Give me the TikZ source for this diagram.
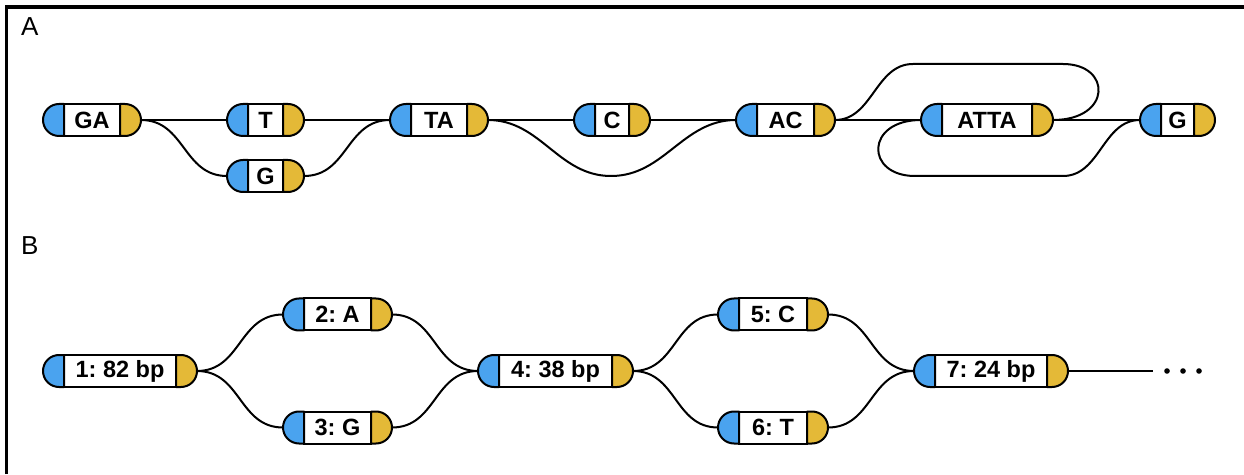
\documentclass[tikz,border=0pt]{standalone}
\usepackage{fontspec}
\setmainfont{Liberation Sans}
\frenchspacing
\definecolor{capblue}{HTML}{4AA3EF}
\definecolor{capyellow}{HTML}{E4B937}

\begin{document}
\begin{tikzpicture}[x=1pt, y=1pt,
    seqbox/.style={draw=black, fill=white, line width=2pt, rectangle,
      minimum height=32pt, inner sep=0pt, outer sep=0pt,
      font=\fontsize{23.5}{23.5}\selectfont\bfseries},
    capline/.style={draw=black, line width=2pt, line join=round},
    link/.style={draw=black, line width=2pt},
    panellabel/.style={anchor=base west, inner sep=0pt,
      font=\fontsize{26}{26}\selectfont}]
  \useasboundingbox (0,0) rectangle (1244,474);

  % frame on the top and left side
  \draw[line width=3.5pt] (6.5,0) |- (1244,467);

  % panel letters
  \node[panellabel] (labelA) at (21,438) {A};
  \node[panellabel] (labelB) at (21,219) {B};

  % segments: white box with a blue start cap and a yellow end cap
  \foreach \name/\x/\y/\w/\txt in {
      ga/92/354/56/GA, t/265.5/354/35/T, g/265.5/298/35/G,
      ta/439/354/56/TA, c/612/354/34/C, ac/785.5/354/57/AC,
      atta/987/354/90/ATTA, gend/1177.5/354/33/G,
      b1/120/103/112/1: 82 bp, b2/337.5/159.5/67/2: A,
      b3/337.5/46.5/67/3: G, b4/555.5/103/113/4: 38 bp,
      b5/773/159.5/68/5: C, b6/773/46.5/68/6: T,
      b7/991/103/112/7: 24 bp} {
    \node[seqbox, minimum width=\w] (\name) at (\x,\y) {\txt};
    \draw[capline, fill=capblue] (\name.north west) -- ++(-5,0)
      arc[start angle=90, end angle=270, radius=16pt] -- (\name.south west) -- cycle;
    \draw[capline, fill=capyellow] (\name.north east) -- ++(5,0)
      arc[start angle=90, end angle=-90, radius=16pt] -- (\name.south east) -- cycle;
    \coordinate (\name-in) at ([xshift=-21pt]\name.west);
    \coordinate (\name-out) at ([xshift=21pt]\name.east);
  }

  % panel A links
  \coordinate (dip) at (611,298);
  \draw[link] (ga-out) -- (t-in);
  \draw[link] (ga-out) to[out=0, in=180, looseness=1.1] (g-in);
  \draw[link] (t-out) -- (ta-in);
  \draw[link] (g-out) to[out=0, in=180, looseness=1.1] (ta-in);
  \draw[link] (ta-out) -- (c-in);
  \draw[link] (ta-out) to[out=0, in=180] (dip) to[out=0, in=180] (ac-in);
  \draw[link] (c-out) -- (ac-in);
  \draw[link] (ac-out) -- (atta-in);
  \draw[link] (ac-out) to[out=0, in=180] (913,410) -- (1063,410)
    .. controls (1112,410) and (1112,354) .. (atta-out);
  \draw[link] (atta-out) -- (gend-in);
  \draw[link] (atta-in) .. controls (865,354) and (865,298) .. (915,298)
    -- (1063,298) to[out=0, in=180] (gend-in);

  % panel B links
  \foreach \from/\to in {b1/b2, b1/b3, b2/b4, b3/b4, b4/b5, b4/b6, b5/b7, b6/b7} {
    \draw[link] (\from-out) to[out=0, in=180, looseness=1.1] (\to-in);
  }
  \coordinate (tail) at (1153,103);
  \draw[link] (b7-out) -- (tail);
  \foreach \x in {1167,1183,1199} {
    \fill (\x,103) circle (2.8pt);
  }

\end{tikzpicture}
\end{document}
